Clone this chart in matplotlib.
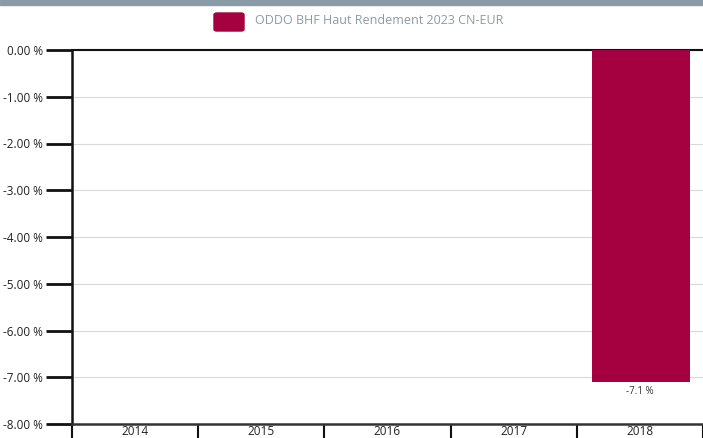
import matplotlib
matplotlib.use("Agg")
import matplotlib.pyplot as plt
from matplotlib.patches import FancyBboxPatch, Rectangle
import numpy as np

plt.rcParams['font.family'] = ['Open Sans', 'Lato', 'DejaVu Sans']

years = ['2014', '2015', '2016', '2017', '2018']
perf = [None, None, None, None, -7.1]
bar_labels = ['', '', '', '', '-7.1 %']
yticks = [0, -1, -2, -3, -4, -5, -6, -7, -8]
series_name = 'ODDO BHF Haut Rendement 2023 CN-EUR'

bar_color = '#a5003f'
W, H = 703, 438
cat_w = 126.75

fig = plt.figure(figsize=(W / 100, H / 100), dpi=100)
ax = fig.add_axes([72 / W, 1 - 424 / H, (W - 72) / W, (424 - 50) / H])

x = np.arange(len(years))
for i, v in enumerate(perf):
    if v is None:
        continue
    ax.bar(x[i] + 0.01, v, width=0.78, color=bar_color, zorder=3)
    ax.text(x[i], v - 0.08, bar_labels[i], ha='center', va='top', fontsize=7, color='#333333')

ax.set_ylim(-8, 0)
ax.set_xlim(-0.5, -0.5 + (W - 72) / cat_w)
ax.set_yticks(yticks)
ax.set_yticklabels(['%.2f %%' % t for t in yticks], fontsize=8.5, color='#222222')
ax.tick_params(axis='y', length=19, width=2, pad=2, color='#111111')
ax.grid(axis='y', color='#d9d9d9', linewidth=0.8, zorder=0)

ax.set_xticks(np.arange(len(years) + 1) - 0.5)
ax.set_xticklabels([])
ax.set_xticks(x, minor=True)
ax.set_xticklabels(years, minor=True, fontsize=8.5, color='#222222')
ax.tick_params(axis='x', which='major', length=13, width=1.5, direction='out', color='#111111')
ax.tick_params(axis='x', which='minor', length=0, pad=0.5)

ax.spines['right'].set_visible(False)
ax.spines['top'].set_linewidth(1.5)
ax.spines['top'].set_color('#111111')
ax.spines['left'].set_linewidth(1.8)
ax.spines['left'].set_color('#111111')
ax.spines['bottom'].set_linewidth(1.8)
ax.spines['bottom'].set_color('#333333')

# top band
fig.patches.append(Rectangle((0, 1 - 5 / H), 1, 5 / H, transform=fig.transFigure,
                             color='#8a9ba8', zorder=0))
# legend
fig.patches.append(FancyBboxPatch((214 / W, 1 - 31 / H), 30 / W, 18 / H,
                                  boxstyle='round,pad=0,rounding_size=0.004',
                                  transform=fig.transFigure, color=bar_color))
fig.text(255 / W, 1 - 21 / H, series_name, fontsize=9, color='#8a9ba8', va='center', ha='left')

fig.savefig('out.png', dpi=100)
